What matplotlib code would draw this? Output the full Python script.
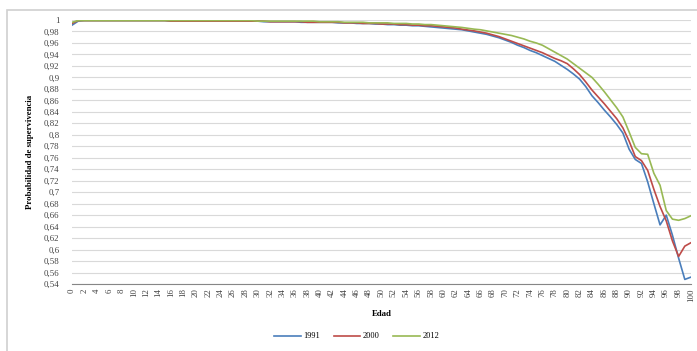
import matplotlib.pyplot as plt
from matplotlib.patches import Rectangle
import numpy as np

plt.rcParams['font.family'] = ['Liberation Serif', 'DejaVu Serif']

edad = list(range(0, 101))

p_1991 = [
    0.991, 0.998, 0.999, 0.999, 0.999, 0.999, 0.999, 0.999, 0.999, 0.999,
    0.999, 0.999, 0.999, 0.999, 0.999, 0.999, 0.998, 0.998, 0.998, 0.998,
    0.998, 0.998, 0.998, 0.998, 0.998, 0.998, 0.998, 0.998, 0.998, 0.998,
    0.998, 0.997, 0.997, 0.997, 0.997, 0.997, 0.997, 0.996, 0.996, 0.996,
    0.996, 0.996, 0.996, 0.995, 0.995, 0.995, 0.994, 0.994, 0.994, 0.993,
    0.993, 0.992, 0.992, 0.991, 0.991, 0.990, 0.990, 0.989, 0.988, 0.987,
    0.986, 0.985, 0.984, 0.983, 0.981, 0.979, 0.977, 0.975, 0.972, 0.969,
    0.965, 0.961, 0.956, 0.952, 0.947, 0.943, 0.938, 0.933, 0.928, 0.921,
    0.914, 0.906, 0.897, 0.884, 0.868, 0.856, 0.843, 0.831, 0.818, 0.803,
    0.775, 0.757, 0.750, 0.718, 0.680, 0.643, 0.660, 0.625, 0.585, 0.548,
    0.552,
]

p_2000 = [
    0.994, 0.999, 0.999, 0.999, 0.999, 0.999, 0.999, 0.999, 0.999, 0.999,
    0.999, 0.999, 0.999, 0.999, 0.999, 0.999, 0.998, 0.998, 0.998, 0.998,
    0.998, 0.998, 0.998, 0.998, 0.998, 0.998, 0.998, 0.998, 0.998, 0.998,
    0.998, 0.998, 0.997, 0.997, 0.997, 0.997, 0.997, 0.997, 0.996, 0.996,
    0.996, 0.996, 0.996, 0.996, 0.995, 0.995, 0.995, 0.994, 0.994, 0.994,
    0.993, 0.993, 0.993, 0.992, 0.992, 0.991, 0.991, 0.990, 0.990, 0.989,
    0.988, 0.987, 0.986, 0.984, 0.9825, 0.981, 0.979, 0.977, 0.974, 0.971,
    0.967, 0.963, 0.959, 0.955, 0.951, 0.947, 0.943, 0.938, 0.933, 0.929,
    0.924, 0.915, 0.905, 0.892, 0.878, 0.866, 0.854, 0.841, 0.828, 0.812,
    0.789, 0.762, 0.755, 0.738, 0.705, 0.675, 0.650, 0.615, 0.588, 0.606,
    0.612,
]

p_2012 = [
    0.996, 0.999, 0.999, 0.999, 0.999, 0.999, 0.999, 0.999, 0.999, 0.999,
    0.999, 0.999, 0.999, 0.999, 0.999, 0.999, 0.999, 0.999, 0.999, 0.999,
    0.999, 0.999, 0.999, 0.999, 0.999, 0.999, 0.999, 0.999, 0.999, 0.999,
    0.998, 0.998, 0.998, 0.998, 0.998, 0.998, 0.998, 0.998, 0.998, 0.998,
    0.997, 0.997, 0.997, 0.997, 0.996, 0.996, 0.996, 0.996, 0.995, 0.995,
    0.995, 0.995, 0.994, 0.994, 0.994, 0.993, 0.993, 0.992, 0.992, 0.991,
    0.990, 0.989, 0.988, 0.987, 0.9855, 0.984, 0.983, 0.981, 0.979, 0.977,
    0.975, 0.973, 0.970, 0.967, 0.963, 0.960, 0.956, 0.950, 0.944, 0.938,
    0.932, 0.924, 0.916, 0.908, 0.900, 0.888, 0.875, 0.861, 0.847, 0.831,
    0.805, 0.778, 0.767, 0.766, 0.733, 0.712, 0.668, 0.653, 0.651, 0.654,
    0.659,
]

series = [('1991', p_1991, '#4a7ebb'),
          ('2000', p_2000, '#be4b48'),
          ('2012', p_2012, '#98b954')]

y_ticks = np.round(np.arange(0.54, 1.0001, 0.02), 2)
x_ticks = list(range(0, 101, 2))

fig = plt.figure(figsize=(6.97, 3.51), dpi=100)
# chart area border
fig.patches.append(Rectangle((7 / 697, -0.1), 1.0, 1.1 - 10 / 351,
                             transform=fig.transFigure, fill=False,
                             edgecolor='#d0d0d0', linewidth=1.2))

ax = fig.add_axes([72 / 697, 67 / 351, 619 / 697, 264 / 351])
for name, vals, col in series:
    ax.plot(edad, vals, color=col, lw=1.2, label=name)

ax.set_xlim(0, 100)
ax.set_ylim(0.54, 1.0)
ax.set_yticks(y_ticks)
ax.set_yticklabels([('%g' % v).replace('.', ',') for v in y_ticks], fontsize=6.3)
ax.set_xticks(x_ticks)
ax.set_xticklabels([str(v) for v in x_ticks], rotation=90, fontsize=6.3)
ax.tick_params(axis='y', length=0, pad=9, colors='#404040')
ax.tick_params(axis='x', length=0, pad=3, colors='#404040')
ax.grid(axis='y', color='#d9d9d9', lw=0.8)
ax.set_axisbelow(True)
for s in ['top', 'right', 'left']:
    ax.spines[s].set_visible(False)
ax.spines['bottom'].set_color('#868686')
ax.spines['bottom'].set_linewidth(0.8)

ax.set_xlabel('Edad', fontsize=6.3, fontweight='bold', labelpad=6)
ax.set_ylabel('Probabilidad de supervivencia', fontsize=6.3,
              fontweight='bold', labelpad=7)

ax.legend(loc='upper center', bbox_to_anchor=(0.46, -0.155), ncol=3,
          frameon=False, fontsize=6, handlelength=3.2, columnspacing=1.6,
          handletextpad=0.3)

fig.savefig('out.png', dpi=100)
